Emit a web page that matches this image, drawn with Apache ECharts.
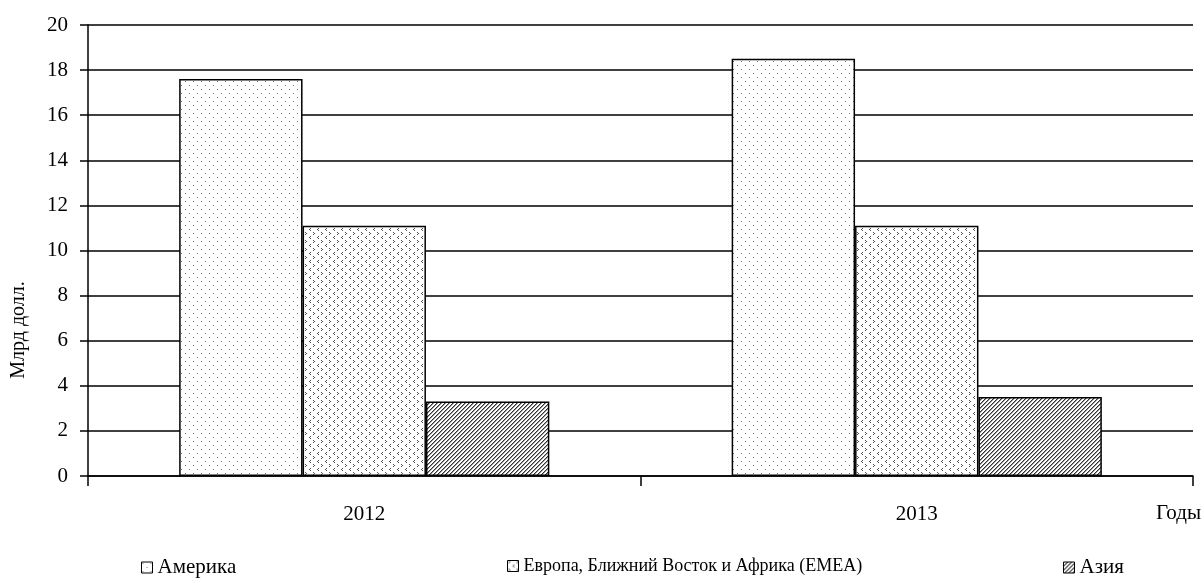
<!DOCTYPE html>
<html>
<head>
<meta charset="utf-8">
<script src="https://cdn.jsdelivr.net/npm/echarts@6/dist/echarts.min.js"></script>
<style>
  html, body { margin: 0; padding: 0; background: #fff; }
  #chart { width: 1203px; height: 578px; }
</style>
</head>
<body>
<div id="chart"></div>
<script>
const years = ["2012", "2013"];
const america = [17.6, 18.5];
const emea = [11.1, 11.1];
const asia = [3.3, 3.5];
const yTicks = [0, 2, 4, 6, 8, 10, 12, 14, 16, 18, 20];

// small canvas patterns to mimic the hatched fills
function makePattern(kind) {
  const c = document.createElement("canvas");
  const ctx = c.getContext("2d");
  if (kind === "dots") {
    c.width = 8; c.height = 8;
    ctx.fillStyle = "#fff"; ctx.fillRect(0, 0, 8, 8);
    ctx.fillStyle = "#777";
    ctx.fillRect(1, 1, 1, 1);
    ctx.fillRect(5, 5, 1, 1);
  } else if (kind === "checks") {
    c.width = 8; c.height = 8;
    ctx.fillStyle = "#fff"; ctx.fillRect(0, 0, 8, 8);
    ctx.fillStyle = "#555";
    ctx.fillRect(1, 0, 1, 1); ctx.fillRect(2, 1, 1, 1); ctx.fillRect(1, 2, 1, 1);
    ctx.fillRect(6, 4, 1, 1); ctx.fillRect(5, 5, 1, 1); ctx.fillRect(6, 6, 1, 1);
  } else {
    c.width = 4; c.height = 4;
    ctx.fillStyle = "#fff"; ctx.fillRect(0, 0, 4, 4);
    ctx.fillStyle = "#333";
    for (let i = 0; i < 4; i++) ctx.fillRect(3 - i, i, 1, 1);
    ctx.fillStyle = "#999";
    for (let i = 0; i < 4; i++) ctx.fillRect((4 - i) % 4, i, 1, 1);
  }
  return { image: c, repeat: "repeat" };
}

const font = "Liberation Serif";
const chart = echarts.init(document.getElementById("chart"));
const legendBase = {
  top: 557,
  padding: 0,
  itemWidth: 11,
  itemHeight: 11,
  icon: "rect",
  textStyle: { fontFamily: font, fontSize: 21, color: "#000" },
  itemStyle: { borderColor: "#000", borderWidth: 1 },
};
const option = {
  animation: false,
  backgroundColor: "#fff",
  grid: { left: 88, right: 10, top: 25, bottom: 102 },
  legend: [
    Object.assign({}, legendBase, { left: 141, data: ["Америка"] }),
    Object.assign({}, legendBase, { left: 507, data: ["Европа, Ближний Восток и Африка (EMEA)"],
      textStyle: { fontFamily: font, fontSize: 18, color: "#000" } }),
    Object.assign({}, legendBase, { left: 1063, data: ["Азия"] }),
  ],
  graphic: [
    {
      type: "text",
      right: 2,
      top: 503,
      style: { text: "Годы", font: "21px 'Liberation Serif'", fill: "#000" },
    },
    {
      type: "text",
      x: 19,
      y: 330,
      rotation: Math.PI / 2,
      style: { text: "Млрд долл.", font: "20px 'Liberation Serif'", fill: "#000",
        textAlign: "center", textVerticalAlign: "middle" },
    },
  ],
  xAxis: {
    type: "category",
    data: years,
    axisLine: { lineStyle: { color: "#000", width: 1.5 } },
    axisTick: { show: true, length: 10, lineStyle: { color: "#000", width: 1.5 } },
    axisLabel: { fontFamily: font, fontSize: 21, color: "#000", margin: 28 },
  },
  yAxis: {
    type: "value",
    min: yTicks[0],
    max: yTicks[yTicks.length - 1],
    interval: 2,
    axisLine: { show: true, lineStyle: { color: "#000", width: 1.5 } },
    axisTick: { show: true, length: 8, lineStyle: { color: "#000", width: 1.5 } },
    axisLabel: { fontFamily: font, fontSize: 21, color: "#000", margin: 20 },
    splitLine: { show: true, lineStyle: { color: "#000", width: 1.5 } },
  },
  series: [
    {
      name: "Америка",
      type: "bar",
      data: america,
      barGap: "0%",
      barCategoryGap: "33%",
      itemStyle: { color: makePattern("dots"), borderColor: "#000", borderWidth: 1.5 },
    },
    {
      name: "Европа, Ближний Восток и Африка (EMEA)",
      type: "bar",
      data: emea,
      itemStyle: { color: makePattern("checks"), borderColor: "#000", borderWidth: 1.5 },
    },
    {
      name: "Азия",
      type: "bar",
      data: asia,
      itemStyle: { color: makePattern("hatch"), borderColor: "#000", borderWidth: 1.5 },
    },
  ],
};
chart.setOption(option);
window.addEventListener("resize", () => chart.resize());
</script>
</body>
</html>
